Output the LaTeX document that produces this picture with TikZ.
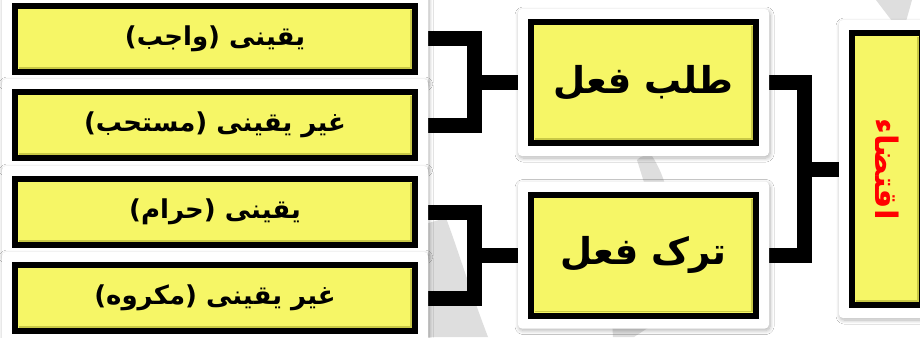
\documentclass[tikz,border=0pt]{standalone}
\usepackage{fontspec}
\newfontfamily\urdu[Script=Arabic]{DejaVu Sans}
\TeXXeTstate=1
\usetikzlibrary{calc,shadows.blur}

\pgfdeclarelayer{bg}
\pgfdeclarelayer{frames}
\pgfsetlayers{bg,frames,main}

\definecolor{boxyellow}{RGB}{246,246,102}
\definecolor{bevel}{RGB}{200,200,70}
\definecolor{wmgray}{RGB}{222,222,222}

\tikzset{
  ybox/.style={rectangle, draw=black, line width=6pt, fill=boxyellow,
    inner sep=0pt, font=\urdu\bfseries,
    path picture={
      \draw[bevel, line width=1.6pt]
        ([shift={(4pt,4pt)}]path picture bounding box.south west) --
        ([shift={(-4pt,4pt)}]path picture bounding box.south east) --
        ([shift={(-4pt,-4pt)}]path picture bounding box.north east);
    }},
  lbox/.style={ybox, minimum width=400pt, minimum height=66pt,
    font=\urdu\bfseries\fontsize{26}{30}\selectfont},
  mbox/.style={ybox, minimum width=225pt, minimum height=121pt,
    font=\urdu\bfseries\fontsize{37}{43}\selectfont},
  rbox/.style={ybox, minimum width=70pt, minimum height=272pt,
    font=\urdu\bfseries\fontsize{31}{35}\selectfont, text=red},
  conn/.style={draw=black, line width=15pt, line join=miter, line cap=butt},
  whiteframe/.style={fill=white, rounded corners=4pt,
    blur shadow={shadow xshift=1pt, shadow yshift=-2pt,
      shadow blur steps=8, shadow blur radius=4pt, shadow opacity=30}},
  wmark/.style={fill=wmgray},
}

% white rounded mount with soft shadow behind a box
\newcommand\mountbehind[1]{%
  \path[whiteframe] ($(#1.south west)+(-10pt,-10pt)$) rectangle ($(#1.north east)+(10pt,10pt)$);}

\begin{document}
\begin{tikzpicture}[x=1pt,y=-1pt]
  \useasboundingbox (0,0) rectangle (920,337);

  % boxes
  \node[lbox] (l1) at (215,39)  {\beginR یقینی (واجب)\endR};
  \node[lbox] (l2) at (215,125) {\beginR غیر یقینی (مستحب)\endR};
  \node[lbox] (l3) at (215,212) {\beginR یقینی (حرام)\endR};
  \node[lbox] (l4) at (215,298) {\beginR غیر یقینی (مکروه)\endR};

  \node[mbox] (m1) at (643.5,82.5) {\beginR طلب فعل\endR};
  \node[mbox] (m2) at (643.5,255)  {\beginR ترک فعل\endR};

  \node[rbox] (r) at (887,169) {\rotatebox{-90}{\beginR اقتضاء\endR}};

  % mounts
  \begin{pgfonlayer}{frames}
    \mountbehind{l1}\mountbehind{l2}\mountbehind{l3}\mountbehind{l4}
    \mountbehind{m1}\mountbehind{m2}\mountbehind{r}
  \end{pgfonlayer}

  \begin{pgfonlayer}{bg}
    \fill[white] (0,0) rectangle (920,337);
    % faint background marks
    \path[wmark] (418,226) -- (446,218) .. controls (458,250) and (470,290) .. (488,337) -- (418,337) -- cycle;
    \path[wmark] (637,160) .. controls (640,156) and (648,154) .. (652,156)
      .. controls (658,165) and (664,178) .. (668,195) -- (648,195) -- cycle;
    \path[wmark] (612,320) -- (660,320) -- (634,337) -- (613,337) -- cycle;
    \path[wmark] (876,0) -- (912,0) -- (905,25) -- (895,25) -- cycle;

    % connectors
    \coordinate (j1) at (474,82.5);
    \coordinate (j2) at (474,255);
    \coordinate (j3) at (804,169);
    \draw[conn] (l1.east) -| (j1) |- (l2.east);
    \draw[conn] (j1) -- (m1.west);
    \draw[conn] (l3.east) -| (j2) |- (l4.east);
    \draw[conn] (j2) -- (m2.west);
    \draw[conn] (m1.east) -| (j3) |- (m2.east);
    \draw[conn] (j3) -- (r.west);
  \end{pgfonlayer}
\end{tikzpicture}
\end{document}
